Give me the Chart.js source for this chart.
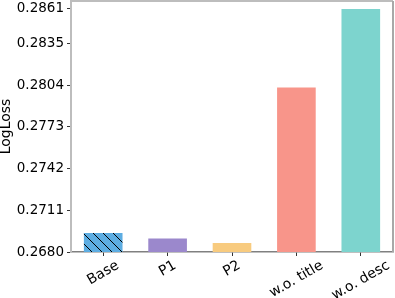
<!DOCTYPE html>
<html>
<head>
<meta charset="utf-8">
<script src="https://cdn.jsdelivr.net/npm/chart.js@4.4.0/dist/chart.umd.min.js"></script>
<style>
  html, body { margin: 0; padding: 0; background: #fff; }
  #wrap { width: 395px; height: 298px; }
</style>
</head>
<body>
<div id="wrap"><canvas id="lossChart" width="395" height="298"></canvas></div>
<script>
// data
const categories = ["Base", "P1", "P2", "w.o. title", "w.o. desc"];
const logLoss = [0.26941, 0.26900, 0.26867, 0.28022, 0.28604];
const yTicks = [0.2680, 0.2711, 0.2742, 0.2773, 0.2804, 0.2835, 0.2861];
const barColors = ["#5dade2", "#9b88cc", "#f8cb7f", "#f8958a", "#7dd4ce"];
const yMin = 0.2680;
const yMax = 0.28664;

const FONT = "'DejaVu Sans', sans-serif";

// hatch "\\" for the Base bar
function makeHatch(bg) {
    const c = document.createElement("canvas");
    c.width = 10; c.height = 10;
    const g = c.getContext("2d");
    g.fillStyle = bg;
    g.fillRect(0, 0, 10, 10);
    g.strokeStyle = "#000";
    g.lineWidth = 1;
    g.beginPath();
    g.moveTo(-1, -1); g.lineTo(11, 11);
    g.moveTo(-11, -1); g.lineTo(1, 11);
    g.moveTo(9, -1); g.lineTo(21, 11);
    g.stroke();
    return g.createPattern(c, "repeat");
}

const fills = barColors.slice();
fills[0] = makeHatch(barColors[0]);

// top/right spines + centred rotated x labels
const framePlugin = {
    id: "frame",
    afterDraw(chart) {
        const { ctx, chartArea: a, scales } = chart;
        ctx.save();
        ctx.strokeStyle = "#bdbdbd";
        ctx.lineWidth = 2;
        ctx.beginPath();
        ctx.moveTo(a.left, a.top);
        ctx.lineTo(a.right, a.top);
        ctx.stroke();
        ctx.strokeStyle = "#a8a8a8";
        ctx.beginPath();
        ctx.moveTo(a.right, a.top);
        ctx.lineTo(a.right, a.bottom);
        ctx.stroke();

        ctx.font = "14px " + FONT;
        ctx.fillStyle = "#000";
        ctx.textAlign = "center";
        ctx.textBaseline = "middle";
        const rot = 30 * Math.PI / 180;
        const h = 15;
        categories.forEach((lab, i) => {
            const x = scales.x.getPixelForTick(i);
            const w = ctx.measureText(lab).width;
            const bh = w * Math.sin(rot) + h * Math.cos(rot);
            const top = a.bottom + 6;
            ctx.save();
            ctx.translate(x, top + bh / 2);
            ctx.rotate(-rot);
            ctx.fillText(lab, 0, 0);
            ctx.restore();
        });
        ctx.restore();
    }
};

new Chart(document.getElementById("lossChart"), {
    type: "bar",
    data: {
        labels: categories,
        datasets: [{
            data: logLoss,
            backgroundColor: fills,
            borderWidth: 0,
            barPercentage: 0.6,
            categoryPercentage: 1.0
        }]
    },
    options: {
        responsive: false,
        animation: false,
        layout: { padding: { top: 1, right: 2, left: 0, bottom: 0 } },
        plugins: {
            legend: { display: false },
            tooltip: { enabled: false }
        },
        scales: {
            x: {
                offset: true,
                grid: { offset: false, drawOnChartArea: false, tickLength: 4, color: "#333", lineWidth: 1 },
                border: { display: true, color: "#808080", width: 1.5 },
                ticks: { display: false },
                afterFit(scale) {
                    scale.height = 46;
                    scale.paddingLeft = 0;
                    scale.paddingRight = 0;
                }
            },
            y: {
                min: yMin,
                max: yMax,
                afterBuildTicks(scale) {
                    scale.ticks = yTicks.map(v => ({ value: v }));
                },
                grid: { drawOnChartArea: false, tickLength: 4, color: "#333", lineWidth: 1 },
                border: { display: true, color: "#bdbdbd", width: 2 },
                ticks: {
                    color: "#000",
                    padding: 3,
                    font: { family: FONT, size: 13.5 },
                    callback: v => Number(v).toFixed(4)
                },
                title: {
                    display: true,
                    text: "LogLoss",
                    color: "#000",
                    font: { family: FONT, size: 14 },
                    padding: { top: -2, bottom: 0 }
                },
                afterFit(scale) {
                    scale.width = 71;
                    scale.paddingTop = 0;
                    scale.paddingBottom = 0;
                }
            }
        }
    },
    plugins: [framePlugin]
});
</script>
</body>
</html>
